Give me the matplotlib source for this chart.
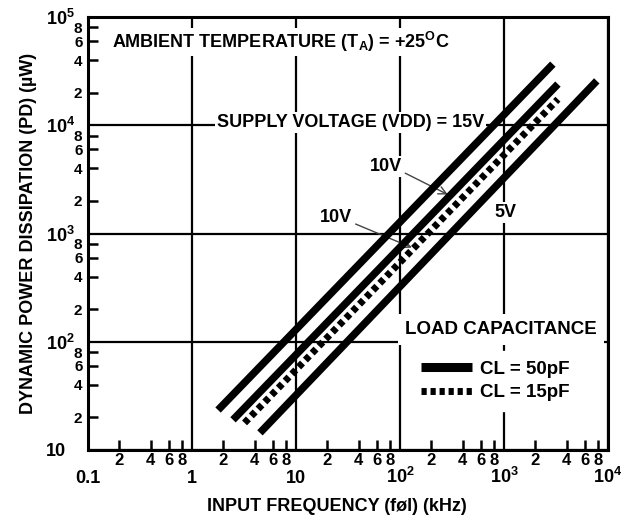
import numpy as np
import matplotlib
matplotlib.use('Agg')
import matplotlib.pyplot as plt
from matplotlib.lines import Line2D
from matplotlib.ticker import FixedLocator, FuncFormatter, FixedFormatter

plt.rcParams['font.family'] = ['Liberation Sans', 'DejaVu Sans']
plt.rcParams['font.weight'] = 'bold'

# data (line end points)
freq_15v_50pf = [1.78, 2950]
pd_15v_50pf = [23.4, 36700]
freq_10v_50pf = [2.48, 3300]
pd_10v_50pf = [19.0, 24000]
freq_10v_15pf = [3.2, 3300]
pd_10v_15pf = [17.8, 17400]
freq_5v_50pf = [4.5, 7800]
pd_5v_50pf = [14.4, 25700]

x_major = [0.1, 1, 10, 100, 1000, 10000]
x_major_labels = ['0.1', '1', '10', r'$\mathregular{10^2}$', r'$\mathregular{10^3}$', r'$\mathregular{10^4}$']
y_major = [10, 100, 1000, 10000, 100000]
y_major_labels = ['10', r'$\mathregular{10^2}$', r'$\mathregular{10^3}$', r'$\mathregular{10^4}$', r'$\mathregular{10^5}$']
minor_digits = [2, 4, 6, 8]

fig = plt.figure(figsize=(6.41, 5.2), dpi=100)
ax = fig.add_axes([88 / 641, 70 / 520, 520 / 641, 433 / 520])
ax.set_xscale('log')
ax.set_yscale('log')
ax.set_xlim(0.1, 1e4)
ax.set_ylim(10, 1e5)

solid = dict(color='black', lw=5.4, solid_capstyle='butt', zorder=4)
ax.plot(freq_15v_50pf, pd_15v_50pf, **solid)
ax.plot(freq_10v_50pf, pd_10v_50pf, **solid)
ax.plot(freq_5v_50pf, pd_5v_50pf, **solid)
ax.plot(freq_10v_15pf, pd_10v_15pf, color='black', lw=5.0, dashes=(0.8, 0.6),
        dash_capstyle='butt', zorder=4)

# grid and ticks
ax.set_axisbelow(True)
ax.grid(which='major', color='black', lw=1.6)
ax.xaxis.set_major_locator(FixedLocator(x_major))
ax.xaxis.set_major_formatter(FixedFormatter(x_major_labels))
ax.yaxis.set_major_locator(FixedLocator(y_major))
ax.yaxis.set_major_formatter(FixedFormatter(y_major_labels))
x_minor = [d * dec for dec in x_major[:-1] for d in minor_digits]
y_minor = [d * dec for dec in y_major[:-1] for d in minor_digits]
ax.xaxis.set_minor_locator(FixedLocator(x_minor))
ax.yaxis.set_minor_locator(FixedLocator(y_minor))
lead = FuncFormatter(lambda v, p: '%d' % round(v / 10 ** np.floor(np.log10(v) + 1e-9)))
ax.xaxis.set_minor_formatter(lead)
ax.yaxis.set_minor_formatter(lead)

ax.tick_params(which='major', length=0)
ax.tick_params(axis='x', which='major', pad=24, labelsize=13)
ax.tick_params(axis='y', which='major', pad=30.5, labelsize=13)
ax.tick_params(which='minor', direction='in', length=7, width=1.8, labelsize=12)
ax.tick_params(axis='y', which='minor', labelsize=11)
ax.tick_params(axis='x', which='minor', pad=2)
ax.tick_params(axis='y', which='minor', pad=4)
for lb in ax.get_xticklabels():
    lb.set_va('baseline')
for lb in ax.get_yticklabels():
    lb.set_ha('left')
for s in ax.spines.values():
    s.set_linewidth(2.2)

# annotations
box = dict(facecolor='white', edgecolor='none', pad=1.5)
ax.text(0.046, 0.942, r'AMBIENT TEMPERATURE (T$_\mathregular{A}$) = +25$^\mathregular{O}$C',
        transform=ax.transAxes, fontsize=13, va='center', ha='left', bbox=box, zorder=3)
ax.text(0.248, 0.757, 'SUPPLY VOLTAGE (VDD) = 15V', transform=ax.transAxes,
        fontsize=13, va='center', ha='left', bbox=box, zorder=3)
ax.text(0.802, 0.549, '5V', transform=ax.transAxes, fontsize=13,
        va='center', ha='center', bbox=box, zorder=3)
arrow = dict(arrowstyle='->', color='#444444', lw=1.0, relpos=(1.0, 0.2),
             shrinkA=1, shrinkB=0, mutation_scale=14)
ax.annotate('10V', xy=(288, 2290), xytext=(73, 4170), fontsize=13,
            ha='center', va='center', arrowprops=arrow, bbox=box, zorder=3)
ax.annotate('10V', xy=(130, 741), xytext=(24.3, 1406), fontsize=13,
            ha='center', va='center', arrowprops=arrow, bbox=box, zorder=3)

ax.text(0.61, 0.278, 'LOAD CAPACITANCE', transform=ax.transAxes, fontsize=13.5,
        va='center', ha='left', bbox=dict(facecolor='white', edgecolor='none', pad=5), zorder=3)
handles = [Line2D([], [], color='black', lw=6.5, solid_capstyle='butt'),
           Line2D([], [], color='black', lw=5.0, dashes=(0.75, 0.55), dash_capstyle='butt')]
leg = ax.legend(handles, ['CL = 50pF', 'CL = 15pF'], loc='upper left',
                bbox_to_anchor=(0.605, 0.25), frameon=True, fancybox=False,
                framealpha=1, edgecolor='white', facecolor='white',
                prop={'size': 13.5, 'weight': 'bold'}, handlelength=2.7,
                handletextpad=0.45, labelspacing=0.35, borderpad=0.5)
leg.set_zorder(5)

ax.set_xlabel('INPUT FREQUENCY (føl) (kHz)', fontsize=13, fontweight='bold')
ax.xaxis.set_label_coords(0.479, -0.112)
ax.set_ylabel('DYNAMIC POWER DISSIPATION (PD) (µW)', fontsize=13, fontweight='bold', labelpad=6)

fig.savefig('out.png', dpi=100)
